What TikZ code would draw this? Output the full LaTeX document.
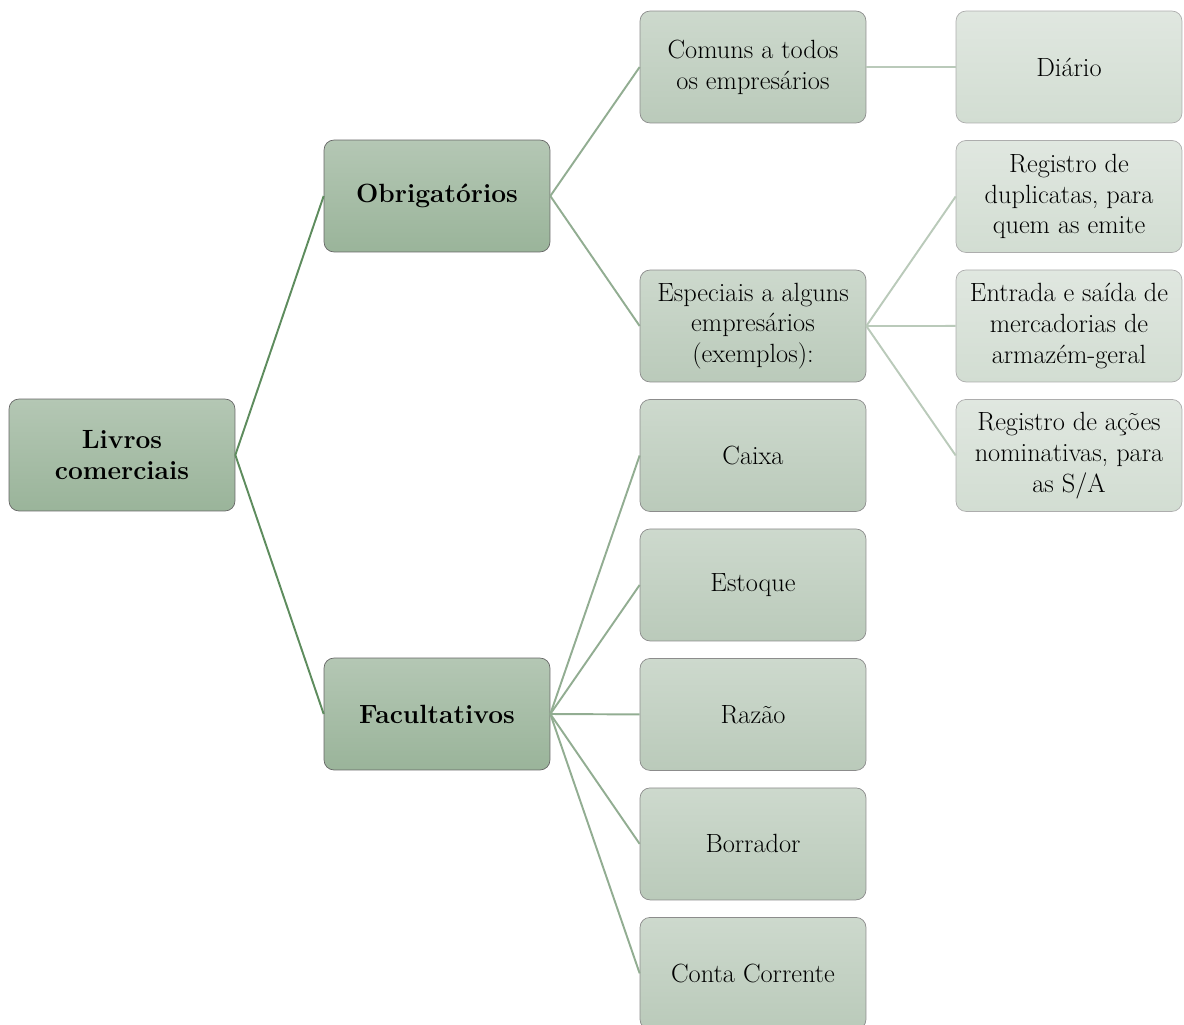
\documentclass[tikz,border=0pt]{standalone}
\usepackage{tikz}
\usetikzlibrary{positioning}
\definecolor{topOne}{HTML}{B4C7B4}
\definecolor{botOne}{HTML}{9AB49A}
\definecolor{topTwo}{HTML}{CDD9CD}
\definecolor{botTwo}{HTML}{BACABA}
\definecolor{topThree}{HTML}{E0E7E0}
\definecolor{botThree}{HTML}{D2DDD2}
\definecolor{lineOne}{HTML}{5E8C5E}
\definecolor{lineTwo}{HTML}{92AD92}
\definecolor{lineThree}{HTML}{BACABA}
\newcommand{\boxWidth}[0]{4.52cm}
\newcommand{\boxHeight}[0]{2.24cm}

\begin{document}
\begin{tikzpicture}[x=0.02cm, y=-0.02cm, node distance=0.336cm]
  \tikzset{book/.style={rounded corners=0.2cm, align=center, inner sep=2pt,
                        minimum width=\boxWidth, minimum height=\boxHeight,
                        font=\fontsize{15}{17.5}\selectfont},
           levelone/.style={book, draw=black!60, top color=topOne, bottom color=botOne,
                            font=\fontsize{15}{17.5}\selectfont\bfseries},
           leveltwo/.style={book, draw=black!45, top color=topTwo, bottom color=botTwo},
           levelthree/.style={book, draw=black!32, top color=topThree, bottom color=botThree}}
  \useasboundingbox (0,0) rectangle (1184,1025);
  \node[levelone] (root) at (122,455) {Livros\\comerciais};
  \node[levelone] (obrig) at (437,196) {Obrigat\'orios};
  \node[levelone] (facul) at (437,714) {Facultativos};
  \node[leveltwo] (comuns) at (753,67) {Comuns a todos\\os empres\'arios};
  \node[leveltwo] (espec) at (753,326) {Especiais a alguns\\empres\'arios\\(exemplos):};
  \node[leveltwo, below=of espec] (caixa) {Caixa};
  \node[leveltwo, below=of caixa] (estoque) {Estoque};
  \node[leveltwo, below=of estoque] (razao) {Raz\~ao};
  \node[leveltwo, below=of razao] (borrador) {Borrador};
  \node[leveltwo, below=of borrador] (conta) {Conta Corrente};
  \node[levelthree] (diario) at (1069,67) {Di\'ario};
  \node[levelthree, below=of diario] (regdup) {Registro de\\duplicatas, para\\quem as emite};
  \node[levelthree, below=of regdup] (entrada) {Entrada e sa\'ida de\\mercadorias de\\armaz\'em-geral};
  \node[levelthree, below=of entrada] (regacoes) {Registro de a\c{c}\~oes\\nominativas, para\\as S/A};
  \draw[lineOne, line width=1.1pt] (root.east) -- (obrig.west);
  \draw[lineOne, line width=1.1pt] (root.east) -- (facul.west);
  \draw[lineTwo, line width=1.1pt] (obrig.east) -- (comuns.west);
  \draw[lineTwo, line width=1.1pt] (obrig.east) -- (espec.west);
  \foreach \child in {caixa,estoque,razao,borrador,conta}
    \draw[lineTwo, line width=1.1pt] (facul.east) -- (\child.west);
  \draw[lineThree, line width=1.1pt] (comuns.east) -- (diario.west);
  \foreach \child in {regdup,entrada,regacoes}
    \draw[lineThree, line width=1.1pt] (espec.east) -- (\child.west);
\end{tikzpicture}
\end{document}
